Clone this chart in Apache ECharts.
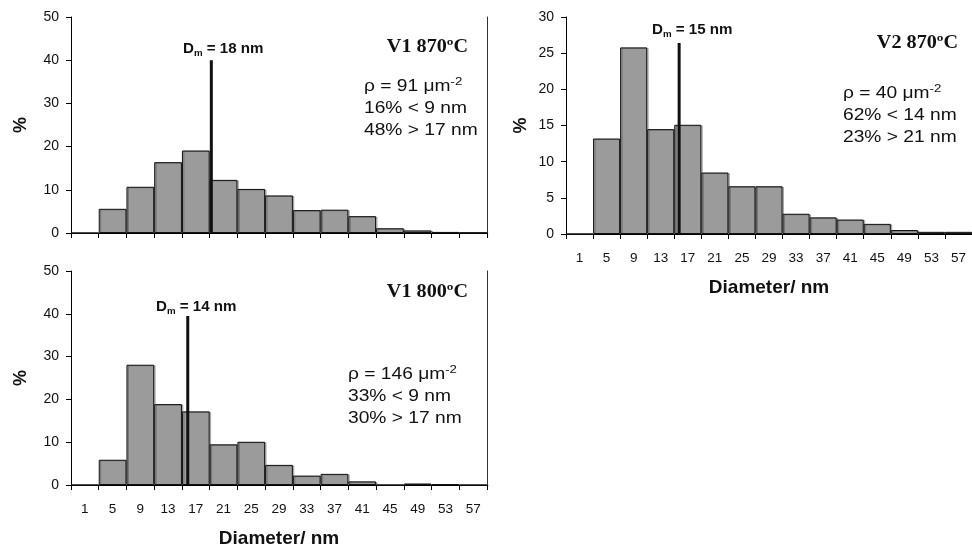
<!DOCTYPE html>
<html><head><meta charset="utf-8">
<script src="https://cdn.jsdelivr.net/npm/echarts@6/dist/echarts.min.js"></script>
<style>html,body{margin:0;padding:0;background:#fff}#c{width:972px;height:549px}</style>
</head><body><div id="c"></div>
<script>
const categories = ['1','5','9','13','17','21','25','29','33','37','41','45','49','53','57'];
const v1_870 = [0, 5.6, 10.7, 16.4, 19.1, 12.3, 10.2, 8.7, 5.3, 5.4, 3.9, 1.1, 0.6, 0.25, 0.1];
const v2_870 = [0, 13.2, 25.8, 14.5, 15.1, 8.5, 6.6, 6.6, 2.8, 2.3, 2.0, 1.4, 0.55, 0.3, 0.3];
const v1_800 = [0, 5.9, 28.1, 18.9, 17.2, 9.5, 10.1, 4.7, 2.2, 2.6, 0.85, 0, 0.35, 0.15, 0];
// Dm marker position in bin units (0..15) and its height in %
const dmPos = [5.06, 4.18, 4.21];
const dmTop = [40, 26.4, 39.5];
const yMax = [50, 30, 50];
const yStep = [10, 5, 10];
const panelTitles = ['V1 870ºC', 'V2 870ºC', 'V1 800ºC'];
const dmLabels = ['18', '15', '14'];
const rhoVals = ['91', '40', '146'];
const statLines = [['16% < 9 nm', '48% > 17 nm'], ['62% < 14 nm', '23% > 21 nm'], ['33% < 9 nm', '30% > 17 nm']];

const seriesData = [v1_870, v2_870, v1_800];
const grids = [
  {left: 71, top: 17, width: 416, height: 216},
  {left: 566, top: 17, width: 420, height: 217},
  {left: 71, top: 271, width: 416, height: 216}
];
const showX = [false, true, true];
const yNameGap = [41, 36, 41];
const FONT = '"Liberation Sans", Arial, sans-serif';
const txt = '#111';

const xAxis = [], yAxis = [], series = [];
grids.forEach((g, i) => {
  xAxis.push({
    type: 'category', gridIndex: i, data: categories, boundaryGap: true,
    axisLine: {lineStyle: {color: '#000', width: 1}},
    axisTick: {show: true, length: 5, alignWithLabel: false, lineStyle: {color: '#000'}},
    axisLabel: {show: showX[i], fontSize: 13.5, color: txt, fontFamily: FONT, margin: 17, interval: 0},
    name: showX[i] ? 'Diameter/ nm' : '', nameLocation: 'middle', nameGap: 44,
    nameTextStyle: {fontSize: 19, fontWeight: 'bold', color: txt, fontFamily: FONT}
  });
  xAxis.push({type: 'value', gridIndex: i, min: 0, max: 15, show: false});
  yAxis.push({
    type: 'value', gridIndex: i, min: 0, max: yMax[i], interval: yStep[i],
    splitLine: {show: false},
    axisLine: {show: true, lineStyle: {color: '#000', width: 1}},
    axisTick: {show: true, length: 5, lineStyle: {color: '#000'}},
    axisLabel: {fontSize: 14, color: txt, fontFamily: FONT, margin: 12},
    name: '%', nameLocation: 'middle', nameGap: yNameGap[i], nameRotate: 90,
    nameTextStyle: {fontSize: 18, fontWeight: 'bold', color: txt, fontFamily: FONT}
  });
  yAxis.push({
    type: 'value', gridIndex: i, min: 0, max: yMax[i], position: 'right',
    splitLine: {show: false}, axisTick: {show: false}, axisLabel: {show: false},
    axisLine: {show: true, lineStyle: {color: '#333', width: 1}}
  });
  series.push({
    type: 'bar', xAxisIndex: 2 * i, yAxisIndex: 2 * i, data: seriesData[i],
    barWidth: '100%', barCategoryGap: '0%', silent: true,
    itemStyle: {color: '#9b9b9b', borderColor: '#111', borderWidth: 1,
      shadowColor: 'rgba(0,0,0,0.25)', shadowOffsetX: 1.5, shadowOffsetY: 0.5, shadowBlur: 0}
  });
  series.push({
    type: 'line', xAxisIndex: 2 * i + 1, yAxisIndex: 2 * i, silent: true,
    data: [[dmPos[i], 0], [dmPos[i], dmTop[i]]], symbol: 'none',
    lineStyle: {color: '#111', width: 3}, z: 5
  });
});

// annotation anchors (pixels)
const titleAnchor = [[468, 47], [958, 43], [468, 292]];
const dmAnchor = [[183, 49], [652, 30], [156, 307]];
const statAnchor = [[364, 87], [843, 94], [348, 375]];
const statStep = 22;

const graphic = [];
for (let i = 0; i < 3; i++) {
  graphic.push({type: 'text', x: titleAnchor[i][0], y: titleAnchor[i][1], scaleX: 1.12,
    style: {text: panelTitles[i], font: 'bold 18px "Liberation Serif", "Times New Roman", serif', fill: txt,
      textAlign: 'right', textVerticalAlign: 'middle'}});
  graphic.push({type: 'text', x: dmAnchor[i][0], y: dmAnchor[i][1], scaleX: 1.08,
    style: {text: '{d|D}{m|m}{d| = ' + dmLabels[i] + ' nm}', fill: txt, textAlign: 'left', textVerticalAlign: 'middle',
      rich: {d: {fontSize: 14, fontWeight: 'bold', fontFamily: FONT, lineHeight: 18, fill: txt},
             m: {fontSize: 9, fontWeight: 'bold', fontFamily: FONT, verticalAlign: 'bottom', lineHeight: 16, fill: txt}}}});
  graphic.push({type: 'text', x: statAnchor[i][0], y: statAnchor[i][1], scaleX: 1.2,
    style: {text: '{a|ρ = ' + rhoVals[i] + ' μm}{s|-2}', fill: txt, textAlign: 'left', textVerticalAlign: 'middle',
      rich: {a: {fontSize: 16, fontFamily: FONT, lineHeight: 22, fill: txt},
             s: {fontSize: 11, fontFamily: FONT, verticalAlign: 'top', lineHeight: 22, fill: txt}}}});
  statLines[i].forEach((s, k) => {
    graphic.push({type: 'text', x: statAnchor[i][0], y: statAnchor[i][1] + statStep * (k + 1), scaleX: 1.2,
      style: {text: s, font: '16px ' + FONT, fill: txt, textAlign: 'left', textVerticalAlign: 'middle'}});
  });
}

const chart = echarts.init(document.getElementById('c'), null, {renderer: 'canvas'});
chart.setOption({
  animation: false,
  grid: grids,
  xAxis: xAxis,
  yAxis: yAxis,
  series: series,
  graphic: graphic
});
</script></body></html>
